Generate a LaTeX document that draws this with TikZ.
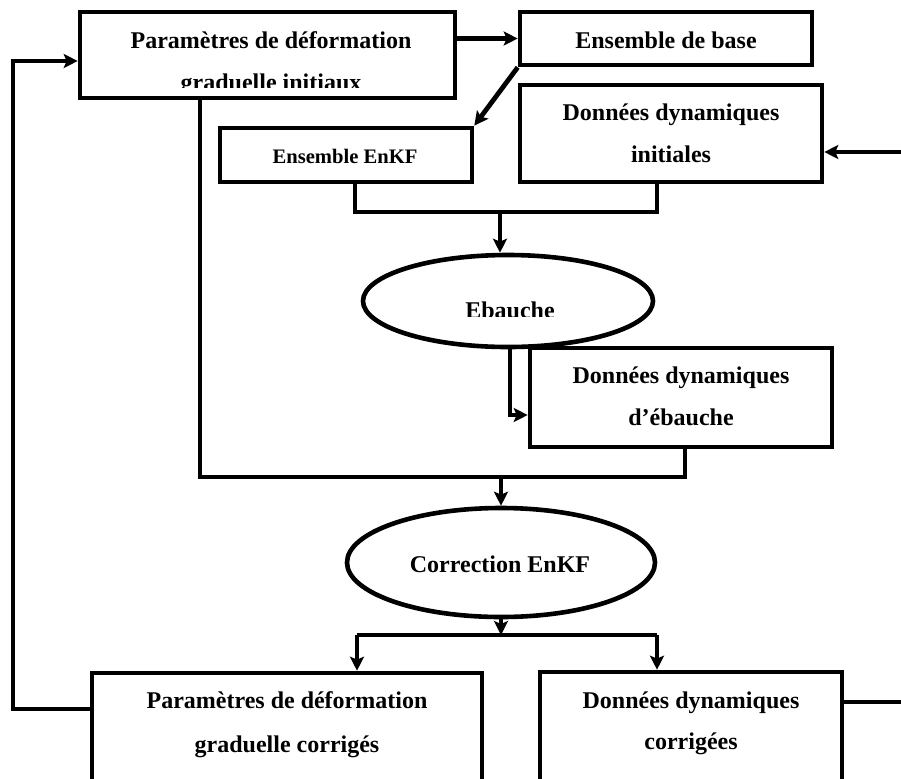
\documentclass[tikz,border=0pt]{standalone}
\usepackage{fontspec}
\setmainfont{Liberation Serif}
\usetikzlibrary{arrows.meta,shapes.geometric}
\tikzset{
  box/.style={draw, line width=2.3pt, rectangle, inner sep=0pt},
  oval/.style={draw, line width=2.3pt, ellipse, inner sep=0pt},
  lbl/.style={anchor=base, inner sep=0pt, font=\fontsize{12pt}{14pt}\selectfont\bfseries},
  lblsmall/.style={anchor=base, inner sep=0pt, font=\fontsize{10.3pt}{12pt}\selectfont\bfseries},
  conn/.style={line width=2.4pt},
  arr/.style={conn, -{Stealth[length=7pt,width=7pt,inset=1.5pt]}}
}
\begin{document}
\begin{tikzpicture}[x=0.5pt,y=-0.5pt]
\useasboundingbox (0,0) rectangle (901,778);
\clip (0,0) rectangle (901,778);
% boxes
\node[box, minimum width=187.5pt, minimum height=43pt] (pgi) at (267.5,55) {};
\node[box, minimum width=146pt, minimum height=26.5pt] (base) at (666,38.5) {};
\node[box, minimum width=126pt, minimum height=27pt] (enkf) at (346,155) {};
\node[box, minimum width=151pt, minimum height=48.5pt] (ddi) at (671,133.5) {};
\node[oval, minimum width=145pt, minimum height=46pt] (ebauche) at (508,301) {};
\node[box, minimum width=151pt, minimum height=49.5pt] (dde) at (681,397.5) {};
\node[oval, minimum width=154pt, minimum height=54.5pt] (corr) at (501,562.5) {};
\node[box, minimum width=195pt, minimum height=63.5pt] (pgc) at (287,736.5) {};
\node[box, minimum width=151pt, minimum height=64pt] (ddc) at (691,736) {};
% texts
\node[lbl] (t1a) at (271,48) {Paramètres de déformation};
\begin{scope}
\clip (0,0) rectangle (901,87);
\node[lbl] (t1b) at (271,90) {graduelle initiaux};
\end{scope}
\node[lbl] (t2) at (666,48) {Ensemble de base};
\node[lblsmall] (t3) at (345,163) {Ensemble EnKF};
\node[lbl] (t4a) at (671,120) {Données dynamiques};
\node[lbl] (t4b) at (671,162) {initiales};
\begin{scope}
\clip (0,0) rectangle (901,316);
\node[lbl] (t5) at (510,318) {Ebauche};
\end{scope}
\node[lbl] (t6a) at (681,383) {Données dynamiques};
\node[lbl] (t6b) at (681,425) {d’ébauche};
\node[lbl] (t7) at (500,572) {Correction EnKF};
\node[lbl] (t8a) at (287,708) {Paramètres de déformation};
\node[lbl] (t8b) at (287,752) {graduelle corrigés};
\node[lbl] (t9a) at (691,708) {Données dynamiques};
\node[lbl] (t9b) at (691,749) {corrigées};
% junction coordinates
\coordinate (j1l) at (355,212);
\coordinate (j1r) at (657,212);
\coordinate (j1m) at (500,212);
\coordinate (k) at (510,415);
\coordinate (j2l) at (200,477);
\coordinate (j2r) at (685,477);
\coordinate (j2m) at (501,477);
\coordinate (j3m) at (501,635);
\coordinate (j3l) at (357,635);
\coordinate (j3r) at (657,635);
\coordinate (lb) at (13,709);
\coordinate (lt) at (13,61);
\coordinate (rb) at (901,702);
\coordinate (rin) at (901,152);
% connectors
\draw[arr] (pgi.east |- base.west) -- (base.west);
\draw[arr] (base.south west) -- (enkf.north east);
\draw[arr] (rin) -- (rin -| ddi.east);
\draw[conn] (enkf.south -| j1l) |- (j1r) -- (j1r |- ddi.south);
\draw[arr] (j1m) -- (j1m |- ebauche.north);
\draw[arr] (k |- ebauche.south) |- (k -| dde.west);
\draw[conn] (pgi.south -| j2l) |- (j2r) -- (j2r |- dde.south);
\draw[arr] (j2m) -- (j2m |- corr.north);
\draw[arr] (j3m |- corr.south) -- (j3m);
\draw[conn] (j3l) -- (j3r);
\draw[arr] (j3l) -- (j3l |- pgc.north);
\draw[arr] (j3r) -- (j3r |- ddc.north);
\draw[arr] (lb -| pgc.west) -- (lb) -- (lt) -- (lt -| pgi.west);
\draw[conn] (rb -| ddc.east) -- (rb);
\end{tikzpicture}
\end{document}
